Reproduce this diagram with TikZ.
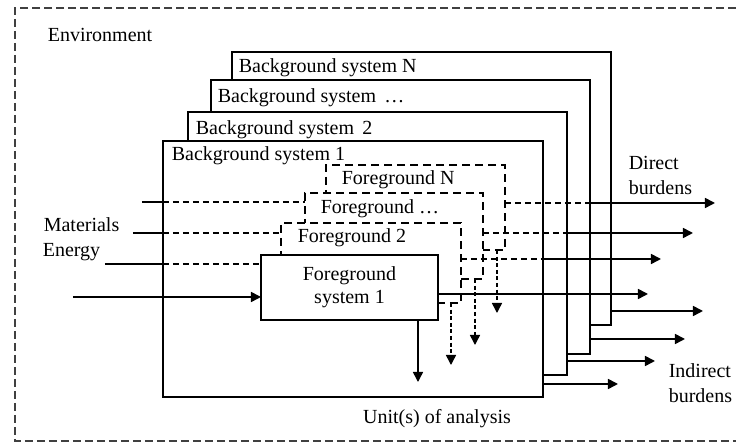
\documentclass[tikz,border=0pt]{standalone}
\usepackage{fontspec}
\setmainfont{Liberation Serif}
\usetikzlibrary{arrows.meta,calc}
\begin{document}
\begin{tikzpicture}[x=0.5pt,y=-0.5pt,
  line width=0.8pt,
  lbl/.style={inner sep=0pt, anchor=west, font=\fontsize{10}{12.5}\selectfont},
  bgbox/.style={draw, fill=white, inner sep=0pt, outer sep=0pt, anchor=north west},
  fgbox/.style={draw, fill=white, dash pattern=on 4pt off 2.5pt, inner sep=0pt, outer sep=0pt, anchor=north west},
  arr/.style={-{Triangle[length=5pt,width=5pt]}},
  dline/.style={dash pattern=on 3pt off 2pt},
  ddown/.style={dash pattern=on 2pt off 1.3pt, -{Triangle[length=5pt,width=5pt]}},
  envbox/.style={dash pattern=on 4pt off 2pt, line width=0.6pt, draw=black!75}
]
\useasboundingbox (0,0) rectangle (736,444);

% environment
\draw[envbox] (736,8) -- (15,8) -- (15,441) -- (736,441);
\node[lbl] (env) at (47,35) {Environment};

% background systems
\node[bgbox, minimum width=189.5pt, minimum height=136.5pt] (bgN) at (232,52) {};
\node[lbl] (tbgN) at (238,68) {Background system N};
\node[bgbox, minimum width=189.5pt, minimum height=137pt] (bgD) at (211,80) {};
\node[lbl] (tbgD) at (217,98) {Background system \,…};
\node[bgbox, minimum width=189.5pt, minimum height=131.5pt] (bg2) at (188,112) {};
\node[lbl] (tbg2) at (195,130) {Background system \,2};
\node[bgbox, minimum width=190pt, minimum height=128pt] (bg1) at (163,141) {};
\node[lbl] (tbg1) at (171,156) {Background system 1};

% foreground systems
\node[fgbox, minimum width=89.5pt, minimum height=42.5pt] (fgN) at (326,165) {};
\node[lbl] (tfgN) at (341,180) {Foreground N};
\node[fgbox, minimum width=89pt, minimum height=43pt] (fgD) at (305,193) {};
\node[lbl] (tfgD) at (320,209) {Foreground …};
\node[fgbox, minimum width=90pt, minimum height=40pt] (fg2) at (281,223) {};
\node[lbl] (tfg2) at (297,238) {Foreground 2};
\node[bgbox, minimum width=88.5pt, minimum height=32.5pt] (fg1) at (261,255) {};
\node[inner sep=0pt, align=center, font=\fontsize{10}{11.5}\selectfont] (tfg1) at (fg1.center) {Foreground\\system 1};

% inputs
\node[lbl] (mat) at (43,225) {Materials};
\node[lbl] (ene) at (42,252) {Energy};
\coordinate (i1) at (142,202);
\coordinate (i2) at (133,233);
\coordinate (i3) at (105,264);
\coordinate (i4) at (73,297);
\draw (i1) -- (i1 -| bg1.west);
\draw[dline] (i1 -| bg1.west) -- (i1 -| fgD.west);
\draw (i2) -- (i2 -| bg1.west);
\draw[dline] (i2 -| bg1.west) -- (i2 -| fg2.west);
\draw (i3) -- (i3 -| bg1.west);
\draw[dline] (i3 -| bg1.west) -- (i3 -| fg1.west);
\draw[arr] (i4) -- (i4 -| fg1.west);

% direct burdens
\coordinate (oNm) at (588,203);
\coordinate (oN) at (715,203);
\draw[dline] (fgN.east |- oN) -- (oNm);
\draw[arr] (oNm) -- (oN);
\coordinate (oDm) at (565,233);
\coordinate (oD) at (693,233);
\draw[dline] (fgD.east |- oD) -- (oDm);
\draw[arr] (oDm) -- (oD);
\coordinate (o2m) at (543,259);
\coordinate (o2) at (661,259);
\draw[dline] (fg2.east |- o2) -- (o2m);
\draw[arr] (o2m) -- (o2);
\coordinate (o1) at (648,294);
\draw[arr] (fg1.east |- o1) -- (o1);
\node[lbl, align=left] (dir) at (628,175) {Direct\\burdens};

% indirect burdens
\coordinate (bN) at (703,311);
\draw[arr] (bgN.east |- bN) -- (bN);
\coordinate (bD) at (685,339);
\draw[arr] (bgD.east |- bD) -- (bD);
\coordinate (b2) at (655,361);
\draw[arr] (bg2.east |- b2) -- (b2);
\coordinate (b1) at (618,384);
\draw[arr] (bg1.east |- b1) -- (b1);
\node[lbl, align=left] (ind) at (668,383) {Indirect\\burdens};

% downward outputs
\coordinate (d1) at (418,382);
\draw[arr] (d1 |- fg1.south) -- (d1);
\coordinate (d2) at (451,365);
\draw[ddown] (d2 |- fg2.south) -- (d2);
\coordinate (dD) at (475,345);
\draw[ddown] (dD |- fgD.south) -- (dD);
\coordinate (dN) at (497,313);
\draw[ddown] (dN |- fgN.south) -- (dN);

\node[inner sep=0pt, font=\fontsize{10}{12.5}\selectfont] (unit) at (437,419) {Unit(s) of analysis};
\end{tikzpicture}
\end{document}
